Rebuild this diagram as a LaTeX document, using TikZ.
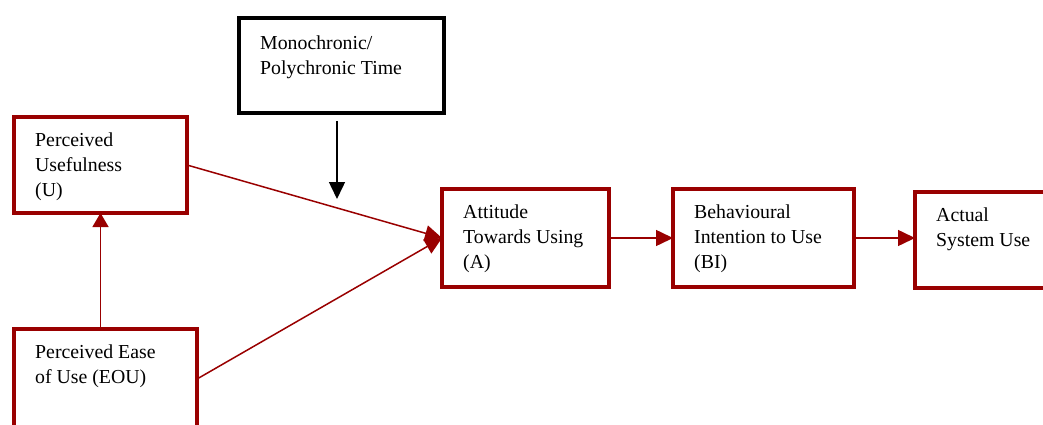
\documentclass[tikz,border=0pt]{standalone}
\usepackage{fontspec}
\setmainfont{Liberation Serif}
\usetikzlibrary{arrows.meta,calc}
\definecolor{tamred}{RGB}{153,0,0}
\tikzset{
  modelbox/.style={draw=tamred,line width=4pt,inner sep=0pt,outer sep=0pt},
  modeltext/.style={anchor=north west,align=left,inner sep=0pt,font=\fontsize{19.8}{25}\selectfont},
  modelarrow/.style={draw=tamred,line width=1.5pt,-{Triangle[length=17pt,width=16pt]}},
  timearrow/.style={draw=black,line width=1.5pt,-{Triangle[length=17pt,width=16pt]}},
}

\begin{document}
\begin{tikzpicture}[x=1pt,y=-1pt]
        \useasboundingbox (0,0) rectangle (1043,425);
        \node[modelbox,draw=black,minimum width=205pt,minimum height=95pt] (mono) at (341.5,65.5) {};
        \node[modelbox,minimum width=173pt,minimum height=96pt] (u) at (100.5,165) {};
        \node[modelbox,minimum width=183pt,minimum height=100pt] (eou) at (105.5,379) {};
        \node[modelbox,minimum width=167pt,minimum height=98pt] (a) at (525.5,238) {};
        \node[modelbox,minimum width=181pt,minimum height=98pt] (bi) at (763.5,238) {};
        \node[modelbox,minimum width=150pt,minimum height=96pt] (asu) at (990,240) {};
        \node[modeltext] (monotext) at ([shift={(21,18)}]mono.north west) {Monochronic/\\Polychronic Time};
        \node[modeltext] (utext) at ([shift={(21,16)}]u.north west) {Perceived\\Usefulness\\(U)};
        \node[modeltext] (eoutext) at ([shift={(21,16)}]eou.north west) {Perceived Ease\\of Use (EOU)};
        \node[modeltext] (atext) at ([shift={(21,16)}]a.north west) {Attitude\\Towards Using\\(A)};
        \node[modeltext] (bitext) at ([shift={(21,16)}]bi.north west) {Behavioural\\Intention to Use\\(BI)};
        \node[modeltext] (asutext) at ([shift={(21,16)}]asu.north west) {Actual\\System Use};
        \coordinate (monofrom) at (337,121);
        \coordinate (monoto) at (337,199);
        \draw[timearrow] (monofrom) -- (monoto);
        \draw[modelarrow] (u.east) -- (a.west);
        \draw[modelarrow] (eou.east) -- (a.west);
        \draw[modelarrow,-{Triangle[length=14pt,width=16pt]}] (eou.north -| u.south) -- (u.south);
        \draw[modelarrow] (a.east) -- (bi.west);
        \draw[modelarrow] (bi.east) -- (bi.east -| asu.west);
    \end{tikzpicture}
\end{document}
